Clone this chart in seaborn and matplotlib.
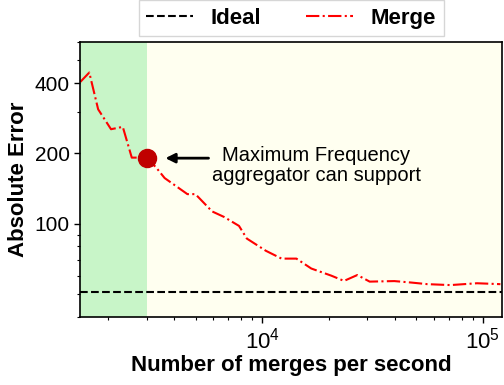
import matplotlib
matplotlib.use("Agg")
import matplotlib.pyplot as plt
import seaborn as sns
import numpy as np
import pandas as pd

# ---- data ----
merges = [1500, 1650, 1810, 2070, 2340, 2570, 2710, 3000, 3300, 3620, 4590, 4990,
          5940, 6730, 7860, 8530, 10400, 12250, 14300, 16700, 20600, 23500, 27000,
          30700, 39700, 47200, 56100, 71300, 94000, 120000]
error = [404, 444, 309, 254, 260, 192, 192, 191, 175, 157, 134, 134,
         113, 107, 98, 86.5, 76.7, 71, 71, 64.4, 60, 57, 60.4,
         56.6, 56.9, 56.1, 55.2, 54.7, 55.7, 55.2]
ideal_value = 51
max_freq = 3000
max_freq_error = 191
legend_labels = ["Ideal", "Merge"]
annotation_text = "Maximum Frequency\naggregator can support"
x_label = "Number of merges per second"
y_label = "Absolute Error"
y_ticks = [100, 200, 400]

sns.set_style("ticks")
plt.rcParams['font.family'] = ['Liberation Sans', 'DejaVu Sans']
plt.rcParams['mathtext.fontset'] = 'custom'
plt.rcParams['mathtext.rm'] = 'Liberation Sans'
plt.rcParams['mathtext.it'] = 'Liberation Sans:italic'
plt.rcParams['mathtext.bf'] = 'Liberation Sans:bold'
for k in ['text.color', 'axes.labelcolor', 'xtick.color', 'ytick.color',
          'xtick.labelcolor', 'ytick.labelcolor']:
    plt.rcParams[k] = 'black'

fig = plt.figure(figsize=(5.04, 3.85), dpi=100)
ax = fig.add_axes([0.159, 0.177, 0.837, 0.714])
ax.set_facecolor('#fffff0')

df = pd.DataFrame({"merges": merges, "error": error})

ax.set_xscale('log')
ax.set_yscale('log')
ax.set_xlim(1500, 122000)
ax.set_ylim(40, 600)

ax.axvspan(1500, max_freq, color='#c8f5c8', zorder=0, lw=0)

ax.axhline(ideal_value, color='black', linestyle='--', lw=1.5, label=legend_labels[0])
sns.lineplot(data=df, x="merges", y="error", ax=ax, color='red', linestyle='-.',
             lw=1.5, label=legend_labels[1])
ax.plot([max_freq], [max_freq_error], 'o', color='#c00000', markersize=13, zorder=5)

ax.annotate('', xy=(3545, max_freq_error), xytext=(5890, max_freq_error),
            arrowprops=dict(arrowstyle='-|>', color='black', lw=2, mutation_scale=14))
ax.text(17600, 178, annotation_text, ha='center', va='center', fontsize=14.5,
        linespacing=1.1, color='black')

ax.set_yticks(y_ticks)
ax.set_yticklabels([str(t) for t in y_ticks])
ax.tick_params(axis='both', which='major', labelsize=15, length=4, width=1,
               color='black', labelcolor='black')
ax.tick_params(axis='x', which='major', labelsize=16)
ax.tick_params(axis='both', which='minor', length=2.5, width=0.8, color='black')
ax.set_xlabel(x_label, fontsize=16, fontweight='bold', labelpad=1, color='black')
ax.set_ylabel(y_label, fontsize=16, fontweight='bold', labelpad=4, color='black')

for s in ax.spines.values():
    s.set_visible(True)
    s.set_color('black')
    s.set_linewidth(1.2)

leg = ax.legend(loc='lower center', bbox_to_anchor=(0.5, 1.02), borderaxespad=0, ncol=2,
                frameon=True, fancybox=False, edgecolor='#cccccc',
                prop={'weight': 'bold', 'size': 16},
                handlelength=2.1, handletextpad=0.8, columnspacing=2.0, borderpad=0.35)
for t in leg.get_texts():
    t.set_color('black')

fig.savefig("out.png", dpi=100)
